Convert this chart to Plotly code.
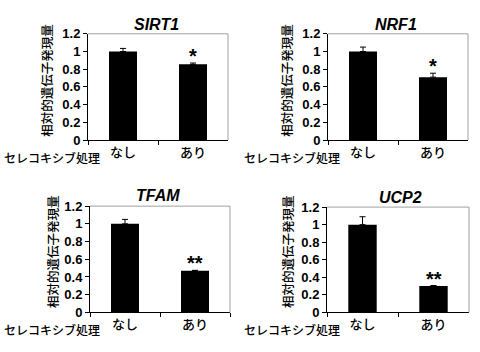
import plotly.graph_objects as go

genes = ["SIRT1", "NRF1", "TFAM", "UCP2"]
categories = ["なし", "あり"]
values = {
    "SIRT1": [1.0, 0.855],
    "NRF1": [1.0, 0.71],
    "TFAM": [1.0, 0.47],
    "UCP2": [1.0, 0.30],
}
errors = {
    "SIRT1": [0.035, 0.015],
    "NRF1": [0.05, 0.045],
    "TFAM": [0.05, 0.005],
    "UCP2": [0.09, 0.006],
}
stars = {
    "SIRT1": ["", "*"],
    "NRF1": ["", "*"],
    "TFAM": ["", "**"],
    "UCP2": ["", "**"],
}
y_title = "相対的遺伝子発現量"
x_label = "セレコキシブ処理"
y_ticks = [0, 0.2, 0.4, 0.6, 0.8, 1, 1.2]

W, H = 480, 352
# pixel boxes: (left, right, top, bottom)
boxes = [(88, 228, 28, 139), (328, 468, 28, 139), (90, 230, 208, 319), (327, 469, 209, 319)]
title_pos = [(156, 18), (396, 18), (158, 197), (400, 199)]
ytitle_pos = [(47, 77), (287, 77), (52, 256), (287, 256)]
xlabel_pos = [(52, 157), (292, 157), (52, 337), (292, 337)]

fig = go.Figure()
jp_font = "Noto Sans CJK JP"
annotations = []
shapes = []
for i, g in enumerate(genes):
    n = "" if i == 0 else str(i + 1)
    l, r, t, b = boxes[i]
    fig.add_trace(go.Bar(
        x=categories, y=values[g], xaxis="x" + n, yaxis="y" + n,
        marker=dict(color="black", line=dict(width=0)),
        error_y=dict(type="data", array=errors[g], arrayminus=[0, 0], symmetric=False,
                     color="black", thickness=1, width=3),
        showlegend=False,
    ))
    fig.layout["xaxis" + n] = dict(
        domain=[l / W, r / W], anchor="y" + n, type="category",
        tickson="boundaries", ticks="outside", ticklen=4, tickcolor="black",
        showline=True, linecolor="black", linewidth=1, showgrid=False,
        tickfont=dict(family=jp_font, size=13, color="black", weight=500),
        fixedrange=True,
    )
    fig.layout["yaxis" + n] = dict(
        domain=[1 - b / H, 1 - t / H], anchor="x" + n, range=[0, 1.2],
        tickvals=y_ticks, ticktext=[f"{v:g}" for v in y_ticks],
        ticks="outside", ticklen=4, tickcolor="black",
        showline=True, linecolor="black", linewidth=1, showgrid=False, zeroline=False,
        tickfont=dict(family="Liberation Sans", size=13, color="black", weight="bold"),
        fixedrange=True,
    )
    # grey frame top and right
    shapes.append(dict(type="line", xref=f"x{n} domain", yref=f"y{n} domain",
                       x0=0, x1=1, y0=1, y1=1, line=dict(color="#a0a0a0", width=1)))
    shapes.append(dict(type="line", xref=f"x{n} domain", yref=f"y{n} domain",
                       x0=1, x1=1, y0=0, y1=1, line=dict(color="#a0a0a0", width=1)))
    tx, ty = title_pos[i]
    annotations.append(dict(text=f"<b><i>{g}</i></b>", x=tx / W, y=1 - ty / H, xref="paper", yref="paper",
                            showarrow=False, xanchor="center", yanchor="middle",
                            font=dict(family="Liberation Sans", size=16, color="black")))
    yx, yy = ytitle_pos[i]
    annotations.append(dict(text=y_title, x=yx / W, y=1 - yy / H, xref="paper", yref="paper",
                            showarrow=False, textangle=-90, xanchor="center", yanchor="middle",
                            font=dict(family=jp_font, size=12.5, color="black", weight=500)))
    lx, ly = xlabel_pos[i]
    annotations.append(dict(text=x_label, x=lx / W, y=1 - ly / H, xref="paper", yref="paper",
                            showarrow=False, xanchor="center", yanchor="middle",
                            font=dict(family=jp_font, size=12, color="black", weight=500)))
    for c, v, e, s in zip(categories, values[g], errors[g], stars[g]):
        if s:
            annotations.append(dict(text=f"<b>{s}</b>", x=c, y=v + e, xref="x" + n, yref="y" + n,
                                    showarrow=False, xanchor="center", yanchor="bottom", yshift=-6,
                                    font=dict(family="Liberation Sans", size=20, color="black")))

fig.update_layout(
    width=W, height=H, margin=dict(l=0, r=0, t=0, b=0),
    paper_bgcolor="white", plot_bgcolor="white",
    bargap=0.6, annotations=annotations, shapes=shapes,
)
fig.write_html("out.html")
